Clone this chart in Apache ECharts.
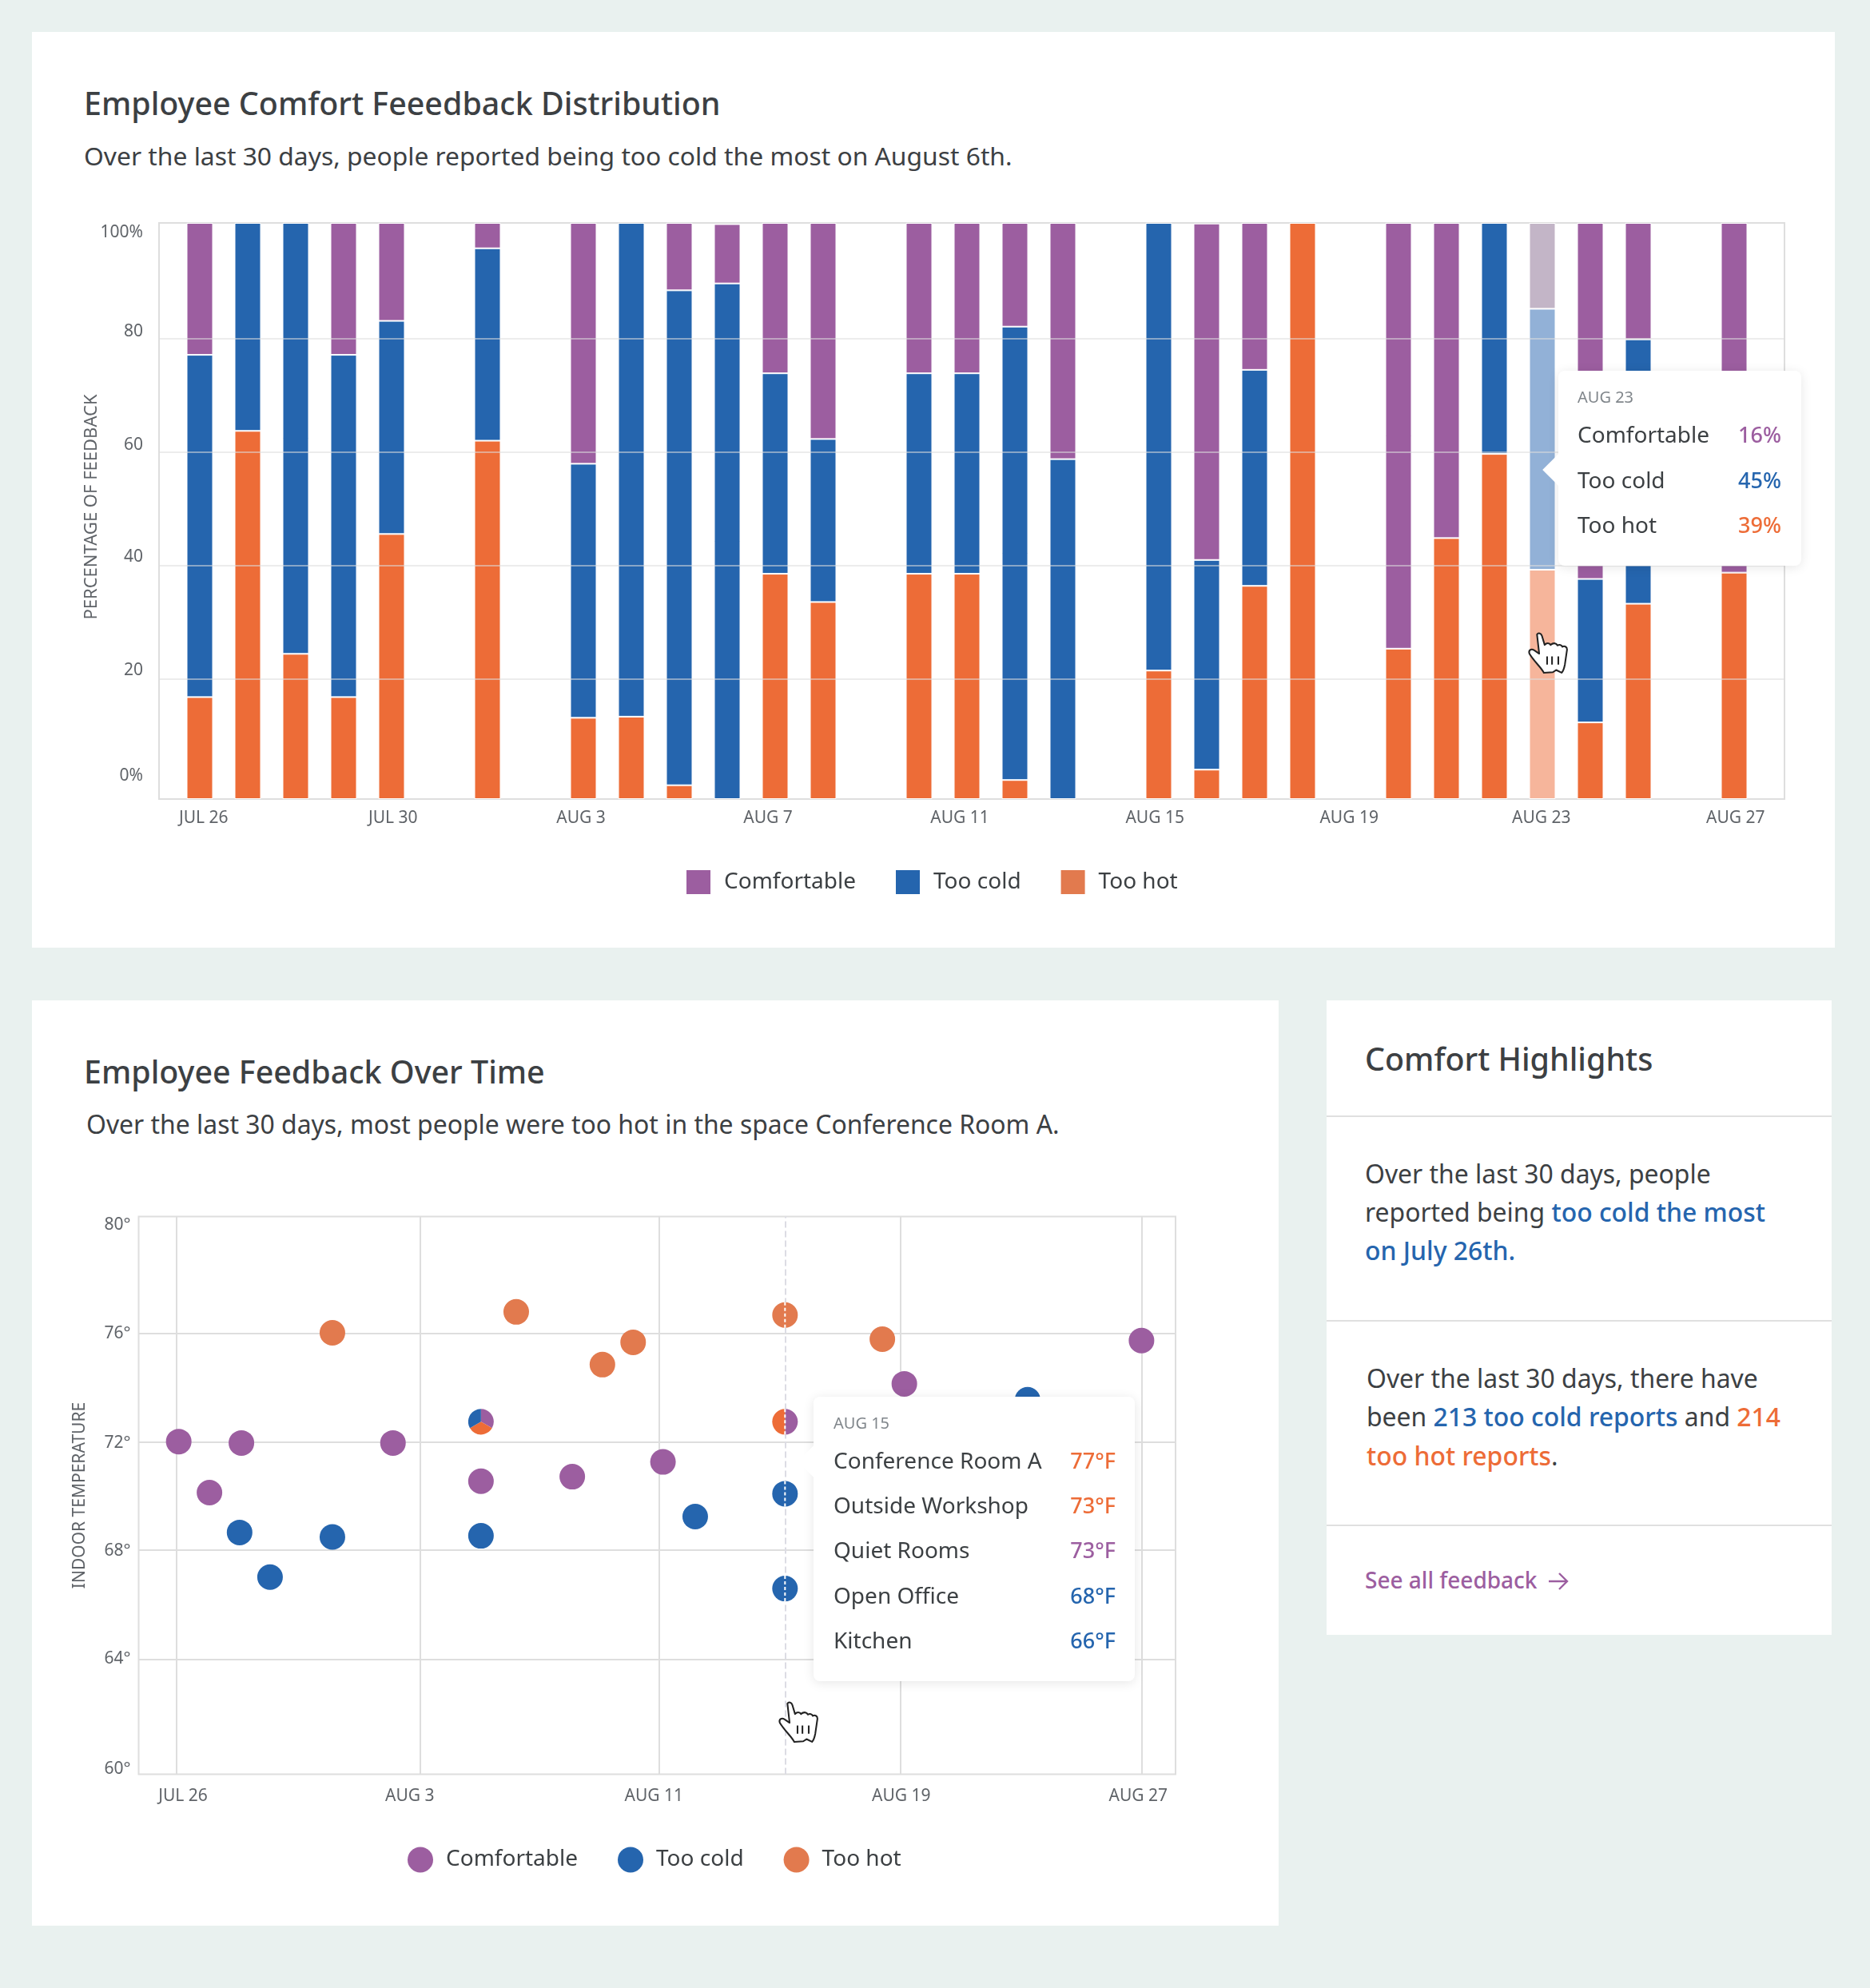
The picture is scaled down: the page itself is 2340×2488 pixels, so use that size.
<!DOCTYPE html>
<html><head><meta charset="utf-8"><title>Employee comfort</title>
<script src="https://cdn.jsdelivr.net/npm/echarts@6/dist/echarts.min.js"></script>
<style>
html,body{margin:0;padding:0;background:#E9F1EF;width:2340px;height:2488px;overflow:hidden}
body{font-family:"Noto Sans",Roboto,sans-serif;color:#3c4043;position:relative}
.card{position:absolute;background:#fff}
.t{position:absolute;transform:translateY(calc(-50% - 1px));white-space:nowrap}
.h{font-size:39.4px;font-weight:500}
.s{font-size:31.8px}
.b{font-size:31.9px}
.blue{color:#2565AE;font-weight:500}.hot{color:#ED6C37;font-weight:500}
.rule{position:absolute;height:2px;background:#e0e0e0;left:1660px;width:632px}
#c1,#c2{position:absolute;left:0;width:2340px}
#c1{top:0;height:1240px}#c2{top:1240px;height:1248px}
.hand{position:absolute;z-index:50}
.tip{position:relative;font-family:"Noto Sans",Roboto,sans-serif;color:#3c4043}
.tip .ar{position:absolute;left:-14px;width:28px;height:28px;background:#fff;transform:rotate(45deg)}
.tip .d{position:absolute;font-size:20px;color:#80868b;transform:translateY(calc(-50% - 1px))}
.tip .k{position:absolute;font-size:28px;transform:translateY(calc(-50% - 1px));white-space:nowrap}
.tip .v{position:absolute;font-size:27px;font-weight:500;transform:translateY(calc(-50% - 1px));white-space:nowrap}
</style></head><body>
<div class="card" style="left:40px;top:40px;width:2256px;height:1146px"></div>
<div class="card" style="left:40px;top:1252px;width:1560px;height:1158px"></div>
<div class="card" style="left:1660px;top:1252px;width:632px;height:794px"></div>

<div class="t h" style="left:105px;top:130px">Employee Comfort Feeedback Distribution</div>
<div class="t s" style="left:105px;top:195px">Over the last 30 days, people reported being too cold the most on August 6th.</div>
<div class="t h" style="left:105px;top:1342px">Employee Feedback Over Time</div>
<div class="t s" style="left:108px;top:1407px;font-size:31.9px">Over the last 30 days, most people were too hot in the space Conference Room A.</div>

<div class="t h" style="left:1708px;top:1326px">Comfort Highlights</div>
<div class="rule" style="top:1396px"></div>
<div class="t b" style="left:1708px;top:1469px">Over the last 30 days, people</div>
<div class="t b" style="left:1708px;top:1517px">reported being <span class="blue">too cold the most</span></div>
<div class="t b" style="left:1708px;top:1565px"><span class="blue">on July 26th.</span></div>
<div class="rule" style="top:1652px"></div>
<div class="t b" style="left:1710px;top:1725px">Over the last 30 days, there have</div>
<div class="t b" style="left:1710px;top:1773px">been <span class="blue">213 too cold reports</span> and <span class="hot">214</span></div>
<div class="t b" style="left:1710px;top:1822px"><span class="hot">too hot reports</span>.</div>
<div class="rule" style="top:1908px"></div>
<div class="t" style="left:1708px;top:1978px;font-size:28px;font-weight:500;color:#9C5EA0">See all feedback</div>
<svg style="position:absolute;left:1937px;top:1966px" width="26" height="26" viewBox="0 0 26 26" fill="none" stroke="#9C5EA0" stroke-width="2.4"><path d="M1 13H24M14 3L24 13L14 23"/></svg>

<div id="c1"></div><div id="c2"></div>

<svg class="hand" style="left:1911px;top:790px" width="52" height="54" viewBox="35 58 150 158"><use href="#h"/></svg>
<svg class="hand" style="left:973px;top:2128px" width="52" height="54" viewBox="35 58 150 158">
<defs><g id="h"><path fill="#fff" stroke="#222" stroke-width="6" stroke-linejoin="round" d="M70 70C75 62 85 65 88 75L98 108C105 100 115 100 120 108C128 100 140 100 145 110C152 106 160 108 163 115C170 110 180 115 180 125L172 180C170 190 165 205 160 210L140 200L128 208L95 210C85 190 60 170 42 140C38 128 48 120 60 128L78 140Z"/><path stroke="#222" stroke-width="6" d="M107 150V180M125 150V180M148 150V180"/></g></defs><use href="#h"/></svg>

<script>
// ---------- shared palette
const PURPLE='#9C5EA0',BLUE='#2565AE',ORANGE='#ED6C37',ORANGE_SOFT='#E27A4E';
const FONT='"Noto Sans",Roboto,sans-serif';
const INK='#5f6368';

// ---------- chart 1 data: one slot per day, Jul 26 .. Aug 27
const days=['Jul 26','Jul 27','Jul 28','Jul 29','Jul 30','Jul 31','Aug 1','Aug 2','Aug 3','Aug 4','Aug 5','Aug 6','Aug 7','Aug 8','Aug 9','Aug 10','Aug 11','Aug 12','Aug 13','Aug 14','Aug 15','Aug 16','Aug 17','Aug 18','Aug 19','Aug 20','Aug 21','Aug 22','Aug 23','Aug 24','Aug 25','Aug 26','Aug 27'];
const comfortable=[22.9,0,0,22.9,17,0,4.4,0,41.8,0,11.7,10.3,26.1,37.5,0,26.1,26.1,18,41,0,0,58.4,25.5,0,0,73.9,54.7,0,14.9,61.8,20.2,0,60.7];
const tooCold=[59.4,36.1,74.8,59.4,37,0,33.4,0,44.1,85.7,85.9,89.5,34.8,28.3,0,34.8,34.8,78.7,59,0,77.7,36.4,37.5,0,0,0,0,40.1,45.3,24.9,45.9,0,0];
const tooHot=[17.7,63.9,25.2,17.7,46,0,62.2,0,14.1,14.3,2.4,0,39.1,34.2,0,39.1,39.1,3.3,0,0,22.3,5.1,37,100,0,26.1,45.3,59.9,39.8,13.3,33.9,0,39.3];
const percentTicks=[20.9,40.6,60.2,79.9];
const percentLabelAt=[4.0,22.3,42.0,61.5,81.1,98.4];
const percentLabels=['0%','20','40','60','80','100%'];
const dayLabelAt1=[0.08,4.03,7.95,11.85,15.85,19.92,23.97,27.98,32.03];
const dayLabels1=['JUL 26','JUL 30','AUG 3','AUG 7','AUG 11','AUG 15','AUG 19','AUG 23','AUG 27'];
const HILITE=28;
const fadedColors={'Comfortable':'#C3B5C7','Too cold':'#92B1D7','Too hot':'#F6B59B'};
const tip1Date='AUG 23';
const tip1Rows=[['Comfortable','16%',PURPLE],['Too cold','45%',BLUE],['Too hot','39%',ORANGE]];

function barSeries(name,vals,color){
  const data=vals.map((v,i)=>({value:v,itemStyle:v===0?{borderWidth:0,opacity:0}:(i===HILITE?{color:fadedColors[name]}:undefined)}));
  return {name,type:'bar',stack:'all',barWidth:33,xAxisIndex:1,yAxisIndex:1,data,itemStyle:{color,borderColor:'#fff',borderWidth:1},emphasis:{disabled:true}};
}
function tipHtml(dateText,rows,o){
  let h='<div class="tip" style="width:'+o.w+'px;height:'+o.h+'px"><div class="ar" style="top:'+(o.arrowY-14)+'px"></div>';
  h+='<div class="d" style="left:'+o.px+'px;top:'+o.dateY+'px">'+dateText+'</div>';
  rows.forEach((r,i)=>{const y=o.rowY+i*o.rowGap;
    h+='<div class="k" style="left:'+o.px+'px;top:'+y+'px">'+r[0]+'</div><div class="v" style="right:'+o.pr+'px;top:'+y+'px;color:'+r[2]+'">'+r[1]+'</div>';});
  return h+'</div>';
}
const labelStyle={color:INK,fontSize:21,fontFamily:FONT};
const tipBase={trigger:'item',triggerOn:'none',alwaysShowContent:true,transitionDuration:0,padding:0,borderWidth:0,backgroundColor:'#fff',
  extraCssText:'box-shadow:0 2px 14px rgba(0,0,0,.10);border-radius:8px;'};

const c1=echarts.init(document.getElementById('c1'));
c1.setOption({
  animation:false,
  grid:[
    {left:199,top:279,width:2034,height:721,show:true,borderColor:'#dedede',borderWidth:2,backgroundColor:'transparent'},
    {left:220,top:279,width:1980,height:721}
  ],
  xAxis:[
    {gridIndex:0,type:'value',min:-0.85,max:33.05,splitLine:{show:false},axisLine:{show:false},axisTick:{show:false},
     axisLabel:{customValues:dayLabelAt1,margin:14,...labelStyle,formatter:v=>dayLabels1[dayLabelAt1.indexOf(v)]}},
    {gridIndex:1,type:'category',data:days,show:false}
  ],
  yAxis:[
    {gridIndex:0,type:'value',min:0,max:100,z:3,axisLine:{show:false},
     axisTick:{show:false,customValues:percentTicks},
     splitLine:{show:true,lineStyle:{color:'#dddddd',opacity:0.55,width:2}},
     axisLabel:{customValues:percentLabelAt,margin:20,...labelStyle,formatter:v=>percentLabels[percentLabelAt.indexOf(v)]},
     name:'PERCENTAGE OF FEEDBACK',nameLocation:'middle',nameGap:73,nameMoveOverlap:false,nameTextStyle:{...labelStyle,fontSize:22,padding:[0,0,0,10]}},
    {gridIndex:1,type:'value',min:0,max:100,show:false}
  ],
  legend:{left:857,top:1087,padding:0,itemWidth:32,itemHeight:32,itemGap:48,icon:'rect',selectedMode:false,
    textStyle:{color:'#3c4043',fontSize:28,fontFamily:FONT,padding:[0,0,0,11]},
    data:[{name:'Comfortable'},{name:'Too cold'},{name:'Too hot',itemStyle:{color:ORANGE_SOFT}}]},
  tooltip:{...tipBase,position:[1950,464],formatter:()=>tipHtml(tip1Date,tip1Rows,{w:304,h:244,arrowY:124,px:24,pr:25,dateY:33,rowY:80,rowGap:56.5})},
  series:[barSeries('Too hot',tooHot,ORANGE),barSeries('Too cold',tooCold,BLUE),barSeries('Comfortable',comfortable,PURPLE)]
});
c1.dispatchAction({type:'showTip',seriesIndex:0,dataIndex:HILITE});

// ---------- chart 2 data: [day since Jul 26, indoor temperature]
const comfortPoints=[[0.08,71.93],[1.10,70.10],[2.16,71.88],[7.19,71.88],[10.11,70.51],[13.14,70.67],[16.15,71.2],[24.16,74.0],[32.03,75.55]];
const coldPoints=[[2.10,68.67],[3.11,67.07],[5.18,68.51],[10.11,68.55],[17.22,69.24],[20.2,70.06],[20.2,66.66],[28.25,73.43]];
const hotPoints=[[5.18,75.83],[11.28,76.58],[14.14,74.69],[15.16,75.49],[20.2,76.47],[23.43,75.6]];
const mixedPoints=[[10.11,72.64,1,1,1],[20.2,72.64,1,1,0]]; // day, temp, comfortable, hot, cold shares
const hoverDay=20.2;
const hoverTemps=[76.47,72.64,70.06,66.66];
const tempTicks=[64.13,68.04,71.9,75.8];
const tempLabelAt=[60.2,64.13,68.0,71.89,75.79,79.69];
const tempLabels=['60°','64°','68°','72°','76°','80°'];
const dayTicks2=[0,8.08,16.02,24.03,32.05];
const dayLabelAt2=[0.22,7.75,15.85,24.06,31.92];
const dayLabels2=['JUL 26','AUG 3','AUG 11','AUG 19','AUG 27'];
const tip2Date='AUG 15';
const tip2Rows=[['Conference Room A','77°F',ORANGE],['Outside Workshop','73°F',ORANGE],['Quiet Rooms','73°F',PURPLE],['Open Office','68°F',BLUE],['Kitchen','66°F',BLUE]];

function scatter(name,data,color,extra){return Object.assign({name,type:'scatter',data,symbolSize:32,itemStyle:{color,opacity:1},emphasis:{disabled:true},z:3},extra||{});}
const c2=echarts.init(document.getElementById('c2'));
c2.setOption({
  animation:false,
  grid:{left:173.5,top:282.5,width:1297.5,height:698,show:true,borderColor:'#dedede',borderWidth:2,backgroundColor:'transparent'},
  xAxis:{type:'value',min:-1.25,max:33.16,axisLine:{show:false},axisTick:{show:false,customValues:dayTicks2},
    splitLine:{show:true,lineStyle:{color:'#dedede',width:2}},
    axisLabel:{customValues:dayLabelAt2,margin:17.5,...labelStyle,formatter:v=>dayLabels2[dayLabelAt2.indexOf(v)]}},
  yAxis:{type:'value',min:60,max:80,axisLine:{show:false},axisTick:{show:false,customValues:tempTicks},
    splitLine:{show:true,lineStyle:{color:'#dedede',width:2}},
    axisLabel:{customValues:tempLabelAt,margin:10,...labelStyle,formatter:v=>tempLabels[tempLabelAt.indexOf(v)]},
    name:'INDOOR TEMPERATURE',nameLocation:'middle',nameGap:63,nameMoveOverlap:false,nameTextStyle:{...labelStyle}},
  legend:{left:510,top:1071.5,padding:0,itemWidth:32,itemHeight:32,itemGap:50,selectedMode:false,
    textStyle:{color:'#3c4043',fontSize:28,fontFamily:FONT,padding:[0,0,0,11]},
    data:[{name:'Comfortable',icon:'circle'},{name:'Too cold',icon:'circle'},{name:'Too hot',icon:'circle',itemStyle:{color:ORANGE_SOFT}}]},
  tooltip:{...tipBase,position:[1017.5,508],formatter:()=>tipHtml(tip2Date,tip2Rows,{w:402,h:356,arrowY:81,px:25,pr:24,dateY:33,rowY:80,rowGap:56.2})},
  series:[
    scatter('Comfortable',comfortPoints,PURPLE,{markLine:{silent:true,symbol:'none',label:{show:false},z:1,lineStyle:{color:'#dcdce4',type:'dashed',width:2},data:[{xAxis:hoverDay}]}}),
    scatter('Too cold',coldPoints,BLUE),
    scatter('Too hot',hotPoints,ORANGE_SOFT),
    {type:'custom',name:'mixed',z:4,silent:true,data:mixedPoints,encode:{x:0,y:1},renderItem(p,api){
      const c=api.coord([api.value(0),api.value(1)]);
      const shares=[api.value(2),api.value(3),api.value(4)],cols=[PURPLE,ORANGE,BLUE];
      const total=shares[0]+shares[1]+shares[2];let a=-Math.PI/2;const kids=[];
      shares.forEach((s,i)=>{if(!s)return;const e=a+s/total*2*Math.PI;
        kids.push({type:'sector',shape:{cx:c[0],cy:c[1],r:16,r0:0,startAngle:a,endAngle:e,clockwise:true},style:{fill:cols[i]}});a=e;});
      return {type:'group',children:kids};
    }},
    {type:'custom',name:'hover',z:5,silent:true,data:hoverTemps.map(t=>[hoverDay,t]),encode:{x:0,y:1},renderItem(p,api){
      const c=api.coord([api.value(0),api.value(1)]);
      return {type:'line',shape:{x1:c[0],y1:c[1]-16,x2:c[0],y2:c[1]+16},style:{stroke:'#fff',lineWidth:2,lineDash:[4,3]}};
    }}
  ]
});
c2.dispatchAction({type:'showTip',seriesIndex:2,dataIndex:4});
</script>
</body></html>
